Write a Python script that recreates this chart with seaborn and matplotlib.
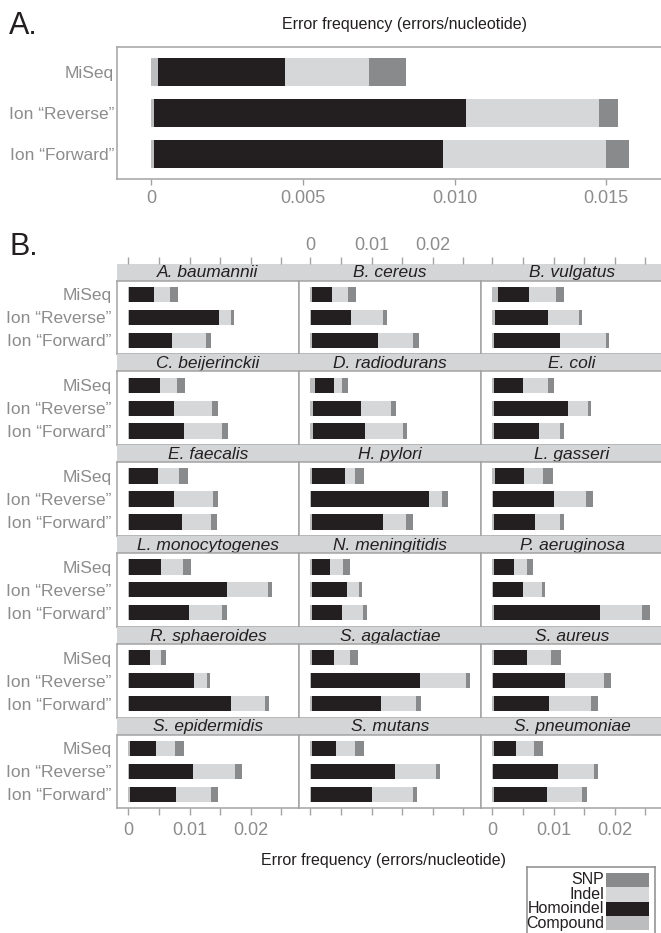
import matplotlib
matplotlib.use("Agg")
import matplotlib.pyplot as plt
import pandas as pd
import seaborn as sns
from matplotlib.patches import Rectangle

sns.set_theme(style="white")
plt.rcParams["font.family"] = ["Liberation Sans", "DejaVu Sans"]

# ---------------------------------------------------------------- data
platforms = ["MiSeq", "Ion \u201cReverse\u201d", "Ion \u201cForward\u201d"]
error_types = ["Compound", "Homoindel", "Indel", "SNP"]
palette = {"Compound": "#bbbdbf", "Homoindel": "#231f20",
           "Indel": "#d6d7d9", "SNP": "#888a8c"}

# A. all genomes pooled (MiSeq, Ion Reverse, Ion Forward)
pooled_compound = [0.00024, 0.00010, 0.00010]
pooled_homoindel = [0.00418, 0.01028, 0.00953]
pooled_indel = [0.00276, 0.00439, 0.00537]
pooled_snp = [0.00122, 0.00062, 0.00075]

# B. per genome, each row = (MiSeq, Ion Reverse, Ion Forward)
species = ["A. baumannii", "B. cereus", "B. vulgatus",
           "C. beijerinckii", "D. radiodurans", "E. coli",
           "E. faecalis", "H. pylori", "L. gasseri",
           "L. monocytogenes", "N. meningitidis", "P. aeruginosa",
           "R. sphaeroides", "S. agalactiae", "S. aureus",
           "S. epidermidis", "S. mutans", "S. pneumoniae"]

compound = [
    [0.0001, 0.0001, 0.0001], [0.0002, 0.0001, 0.0002], [0.0009, 0.0004, 0.0002],
    [0.0001, 0.0001, 0.0001], [0.0008, 0.0005, 0.0005], [0.0003, 0.0002, 0.0002],
    [0.0001, 0.0001, 0.0001], [0.0002, 0.0001, 0.0002], [0.0004, 0.0001, 0.0002],
    [0.0001, 0.0001, 0.0001], [0.0002, 0.0002, 0.0002], [0.0003, 0.0001, 0.0002],
    [0.0001, 0.0001, 0.0001], [0.0002, 0.0001, 0.0002], [0.0003, 0.0001, 0.0002],
    [0.0002, 0.0001, 0.0002], [0.0002, 0.0001, 0.0001], [0.0002, 0.0001, 0.0002],
]
homoindel = [
    [0.0041, 0.0147, 0.0070], [0.0034, 0.0066, 0.0109], [0.0051, 0.0087, 0.0109],
    [0.0050, 0.0074, 0.0090], [0.0030, 0.0078, 0.0085], [0.0047, 0.0122, 0.0074],
    [0.00475, 0.0074, 0.0087], [0.0055, 0.0193, 0.0116], [0.0048, 0.0100, 0.0068],
    [0.0052, 0.0160, 0.0098], [0.0031, 0.00585, 0.0050], [0.00325, 0.0049, 0.0174],
    [0.00345, 0.0106, 0.0167], [0.0037, 0.0179, 0.0114], [0.0054, 0.0118, 0.0091],
    [0.0043, 0.0105, 0.0076], [0.00405, 0.0138, 0.0099], [0.0037, 0.0106, 0.0087],
]
indel = [
    [0.0026, 0.0019, 0.0056], [0.0026, 0.0051, 0.0056], [0.0044, 0.0051, 0.0074],
    [0.0029, 0.0062, 0.0062], [0.0013, 0.0049, 0.0062], [0.0041, 0.0033, 0.0034],
    [0.0034, 0.0064, 0.0047], [0.0016, 0.0021, 0.0039], [0.0031, 0.0052, 0.0041],
    [0.0036, 0.0067, 0.0054], [0.0021, 0.00196, 0.0034], [0.0021, 0.0031, 0.0069],
    [0.0018, 0.0021, 0.0056], [0.0026, 0.0075, 0.0057], [0.0039, 0.0064, 0.0069],
    [0.0031, 0.0069, 0.0057], [0.0031, 0.0067, 0.0067], [0.0029, 0.0059, 0.0057],
]
snp = [
    [0.00126, 0.0005, 0.0008], [0.0013, 0.00066, 0.0010], [0.0013, 0.0005, 0.0005],
    [0.00125, 0.0010, 0.0010], [0.0011, 0.0008, 0.00065], [0.0010, 0.0005, 0.00066],
    [0.0015, 0.0008, 0.0010], [0.0015, 0.0010, 0.0011], [0.0016, 0.0011, 0.00066],
    [0.0013, 0.00065, 0.0008], [0.00115, 0.0005, 0.00065], [0.0010, 0.0005, 0.0013],
    [0.0008, 0.0005, 0.00065], [0.0013, 0.00065, 0.0008], [0.0016, 0.00115, 0.00114],
    [0.0015, 0.00114, 0.00115], [0.0015, 0.00065, 0.0008], [0.0015, 0.00065, 0.0008],
]

# ---------------------------------------------------------------- style
FRAME = "#a3a3a3"
TICKLAB = "#8c8c8c"
INK = "#231f20"
STRIP = "#d4d5d6"

W, H = 661, 933
fig = plt.figure(figsize=(W / 100, H / 100), dpi=100)


def add_ax(x0, y0, x1, y1, **kw):
    """Axes from a pixel box (y measured from the top)."""
    return fig.add_axes([x0 / W, 1 - y1 / H, (x1 - x0) / W, (y1 - y0) / H], **kw)


def stacked_bars(ax, comp, homo, ind, sn, bar_height):
    df = pd.DataFrame({"platform": platforms, "Compound": comp,
                       "Homoindel": homo, "Indel": ind, "SNP": sn})
    ends = df[error_types].cumsum(axis=1)
    # outermost segment first, each inner one painted over it
    for et in reversed(error_types):
        sns.barplot(x=ends[et].to_numpy(), y=df["platform"], order=platforms,
                    orient="h", color=palette[et], saturation=1,
                    width=bar_height, linewidth=0, ax=ax)
    ax.set_xlabel("")
    ax.set_ylabel("")


def frame(ax, sides=("left", "right", "top", "bottom")):
    for s, sp in ax.spines.items():
        sp.set_visible(s in sides)
        sp.set_color(FRAME)
        sp.set_linewidth(1.1)


# ---------------------------------------------------------------- panel A
axA = add_ax(117, 46.7, 691, 179)
stacked_bars(axA, pooled_compound, pooled_homoindel, pooled_indel, pooled_snp, 0.68)
axA.set_xlim(-0.001117, 0.01779)
axA.set_ylim(2.615, -0.615)
axA.set_xticks([0, 0.005, 0.010, 0.015])
axA.set_xticklabels(["0", "0.005", "0.010", "0.015"])
axA.tick_params(axis="x", direction="out", length=4, width=1, color=FRAME,
                labelcolor=TICKLAB, labelsize=13, pad=4, bottom=True)
axA.tick_params(axis="y", length=0, labelcolor=TICKLAB, labelsize=12.5, pad=2)
frame(axA, ("left", "top", "bottom"))

fig.text(404 / W, 1 - 25 / H, "Error frequency (errors/nucleotide)",
         ha="center", va="center", fontsize=11.5, color=INK)
fig.text(9 / W, 1 - 26 / H, "A.", ha="left", va="center", fontsize=22, color=INK)

# ---------------------------------------------------------------- panel B
fig.text(10 / W, 1 - 247 / H, "B.", ha="left", va="center", fontsize=22, color=INK)

COL_W = 182
LEFT0 = 117
TOP0 = 263.5
PITCH = 90.8
STRIP_H = 17
XLIM_B = (-0.001846, 0.02789)
ticks_b = [0, 0.005, 0.010, 0.015, 0.020, 0.025]
ticklabels_b = ["0", "", "0.01", "", "0.02", ""]

for k, name in enumerate(species):
    r, c = divmod(k, 3)
    x0 = LEFT0 + c * COL_W
    top = TOP0 + r * PITCH

    # strip with the genome name
    st = add_ax(x0, top, x0 + COL_W, top + STRIP_H, facecolor=STRIP)
    st.set_xlim(*XLIM_B)
    st.set_ylim(0, 1)
    st.set_yticks([])
    for sp in st.spines.values():
        sp.set_visible(False)
    st.text(0.5, 0.45, name, transform=st.transAxes, ha="center", va="center",
            fontsize=12.5, style="italic", color=INK)
    if r == 0:
        st.xaxis.set_ticks_position("top")
        st.set_xticks(ticks_b)
        st.set_xticklabels(ticklabels_b if c == 1 else [""] * len(ticks_b))
        st.tick_params(axis="x", direction="out", length=5, width=1, color=FRAME,
                       labelcolor=TICKLAB, labelsize=13, pad=1.5, top=True, bottom=False)
    else:
        st.set_xticks([])

    # bars
    ax = add_ax(x0, top + STRIP_H, x0 + COL_W, top + PITCH)
    stacked_bars(ax, compound[k], homoindel[k], indel[k], snp[k], 0.67)
    ax.set_xlim(*XLIM_B)
    ax.set_ylim(2.61, -0.61)
    frame(ax)
    ax.tick_params(axis="y", length=0, labelcolor=TICKLAB, labelsize=12.5, pad=4,
                   labelleft=(c == 0))
    if r == 5:
        ax.set_xticks(ticks_b)
        ax.set_xticklabels(ticklabels_b if c != 1 else [""] * len(ticks_b))
        ax.tick_params(axis="x", direction="out", length=5, width=1, color=FRAME,
                       labelcolor=TICKLAB, labelsize=13, pad=5, bottom=True)
    else:
        ax.set_xticks([])

fig.text(383.5 / W, 1 - 861 / H, "Error frequency (errors/nucleotide)",
         ha="center", va="center", fontsize=11.5, color=INK)

# ---------------------------------------------------------------- key
key = add_ax(526.7, 866.7, 655, 945)
key.set_xlim(526.7, 655)
key.set_ylim(945, 866.7)
key.set_xticks([])
key.set_yticks([])
frame(key)
for sp in key.spines.values():
    sp.set_color("#8c8c8c")
row_top = 872.7
row_h = 14.4
for i, et in enumerate(["SNP", "Indel", "Homoindel", "Compound"]):
    y = row_top + i * row_h
    key.add_patch(Rectangle((606, y), 42.7, row_h, facecolor=palette[et],
                            edgecolor="none"))
    key.text(604.5, y + row_h / 2, et, ha="right", va="center",
             fontsize=11.5, color=INK)

fig.savefig("out.png", dpi=100)
